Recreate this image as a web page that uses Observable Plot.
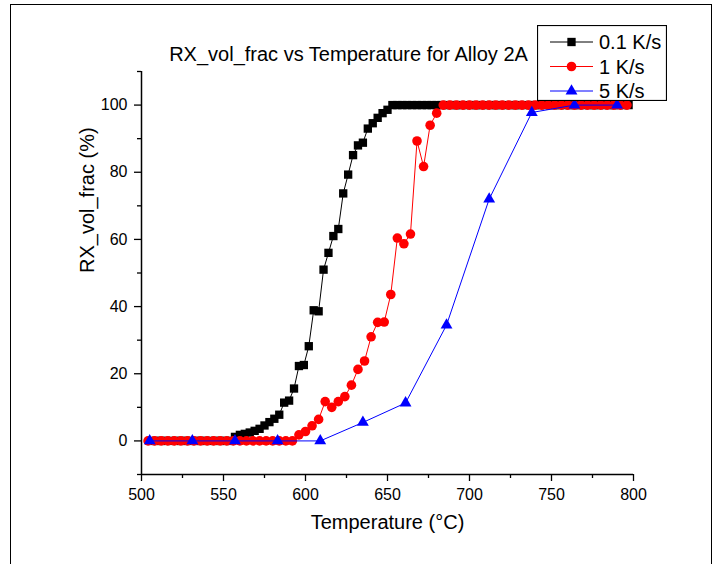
<!DOCTYPE html>
<html>
<head>
<meta charset="utf-8">
<script src="https://cdn.jsdelivr.net/npm/d3@7"></script>
<script src="https://cdn.jsdelivr.net/npm/@observablehq/plot@0.6"></script>
<style>
  html, body { margin: 0; padding: 0; background: #fff; }
  #wrap { position: relative; width: 723px; height: 564px; overflow: hidden; font-family: "Liberation Sans", Arial, sans-serif; }
  #outer { position: absolute; left: 10px; top: 4px; width: 702px; height: 600px; border: 1.5px solid #000; box-sizing: border-box; }
  #chart { position: absolute; left: 0; top: 0; }
  #legend { position: absolute; left: 537px; top: 25px; }
</style>
</head>
<body>
<div id="wrap">
  <div id="outer"></div>
  <div id="chart"></div>
  <div id="legend"></div>
</div>
<script>
const titleText = "RX_vol_frac vs Temperature for Alloy 2A";
const xLabel = "Temperature (°C)";
const yLabel = "RX_vol_frac (%)";
const xDomain = [500, 800];
const yDomain = [-10, 110];
const xMajorTicks = [500, 550, 600, 650, 700, 750, 800];
const xMinorTicks = [525, 575, 625, 675, 725, 775];
const yMajorTicks = [0, 20, 40, 60, 80, 100];
const yMinorTicks = [-10, 10, 30, 50, 70, 90, 110];
const seriesNames = ["0.1 K/s", "1 K/s", "5 K/s"];
const seriesColors = ["#000000", "#ff0000", "#0000ff"];
const seriesSymbols = ["square", "circle", "triangle"];

// 0.1 K/s
const tempSlow = [506,509,512,515,518,521,524,527,530,533,536,539,542,545,548,551,554,
  557,560,563,566,569,572,575,578,581,584,587,590,593,596,599,602,605,608,611,614,617,620,623,626,629,632,635,638,641,644,647,650,
  653,656,659,662,665,668,671,674,677,680,683,686,689,692,695,698,701,704,707,710,713,716,719,722,725,728,731,734,737,740,743,746,749,752,755,758,761,764,767,770,773,776,779,782,785,788,791,794,797];
const fracSlow = [0,0,0,0,0,0,0,0,0,0,0,0,0,0,0,0,0,
  1.2,1.8,2.1,2.5,3.0,3.6,4.6,5.6,6.6,7.8,11.4,12.0,15.6,22.3,22.6,28.2,38.9,38.6,51.0,56.0,61.0,63.1,73.7,79.3,85.1,88.0,88.8,93.0,94.6,96.2,97.6,98.6,
  100,100,100,100,100,100,100,100,100,100,100,100,100,100,100,100,100,100,100,100,100,100,100,100,100,100,100,100,100,100,100,100,100,100,100,100,100,100,100,100,100,100,100,100,100,100,100,100,100];

// 1 K/s
const tempMid = [504,508,512,516,520,524,528,532,536,540,544,548,552,556,560,564,568,572,576,580,584,588,592,
  596,600,604,608,612,616,620,624,628,632,636,640,644,648,652,656,660,664,668,672,676,680,
  684,688,692,696,700,704,708,712,716,720,724,728,732,736,740,744,748,752,756,760,764,768,772,776,780,784,788,792,796];
const fracMid = [0,0,0,0,0,0,0,0,0,0,0,0,0,0,0,0,0,0,0,0,0,0,0,
  1.8,2.8,4.5,6.4,11.7,10.0,11.7,13.2,16.6,21.3,23.8,31.0,35.3,35.4,43.6,60.4,58.7,61.6,89.3,81.7,94.0,97.6,
  100,100,100,100,100,100,100,100,100,100,100,100,100,100,100,100,100,100,100,100,100,100,100,100,100,100,100,100,100];

// 5 K/s
const tempFast = [505,531,557,583,609,635,661,686,712,738,764,790];
const fracFast = [0,0,0,0,0,5.5,11.3,34.5,72.0,97.8,100,100];

const toRows = (t, v) => t.map((d, i) => ({x: d, y: v[i]}));
const slow = toRows(tempSlow, fracSlow);
const mid = toRows(tempMid, fracMid);
const fast = toRows(tempFast, fracFast);

const font = "Liberation Sans, Arial, sans-serif";
const chart = Plot.plot({
  width: 723,
  height: 564,
  marginLeft: 141,
  marginRight: 90,
  marginTop: 71,
  marginBottom: 90,
  x: {domain: xDomain},
  y: {domain: yDomain},
  style: {fontFamily: font, background: "transparent", color: "#000", overflow: "visible"},
  marks: [
    Plot.axisX(xMajorTicks, {tickSize: 7, tickPadding: 7, fontSize: 16, label: null, strokeWidth: 1.3}),
    Plot.axisX(xMinorTicks, {tickSize: 4, tickFormat: () => "", label: null, strokeWidth: 1.3}),
    Plot.axisY(yMajorTicks, {tickSize: 7, tickPadding: 7, fontSize: 16, label: null, strokeWidth: 1.3}),
    Plot.axisY(yMinorTicks, {tickSize: 4, tickFormat: () => "", label: null, strokeWidth: 1.3}),
    Plot.ruleX([xDomain[0]], {stroke: "#000", strokeWidth: 1.5}),
    Plot.ruleY([yDomain[0]], {stroke: "#000", strokeWidth: 1.5}),
    Plot.line(slow, {x: "x", y: "y", stroke: seriesColors[0], strokeWidth: 1}),
    Plot.dot(slow, {x: "x", y: "y", symbol: seriesSymbols[0], r: 4.7, fill: seriesColors[0], stroke: "none"}),
    Plot.line(mid, {x: "x", y: "y", stroke: seriesColors[1], strokeWidth: 1}),
    Plot.dot(mid, {x: "x", y: "y", symbol: seriesSymbols[1], r: 4.8, fill: seriesColors[1], stroke: "none"}),
    Plot.line(fast, {x: "x", y: "y", stroke: seriesColors[2], strokeWidth: 1}),
    Plot.dot(fast, {x: "x", y: "y", symbol: seriesSymbols[2], r: 4.4, fill: seriesColors[2], stroke: "none"}),
    Plot.text([titleText], {frameAnchor: "top", lineAnchor: "middle", text: d => d, dx: -39, dy: -17, fontSize: 20, fill: "#000"}),
    Plot.text([xLabel], {frameAnchor: "bottom", lineAnchor: "middle", text: d => d, dy: 48, fontSize: 20, fill: "#000"}),
    Plot.text([yLabel], {frameAnchor: "left", lineAnchor: "middle", text: d => d, dx: -54, rotate: -90, fontSize: 20, fill: "#000"})
  ]
});
document.getElementById("chart").appendChild(chart);

// Legend
const lw = 130, lh = 76;
const leg = d3.select("#legend").append("svg").attr("width", lw).attr("height", lh)
  .style("font-family", font);
leg.append("rect").attr("x", 0.5).attr("y", 0.5).attr("width", lw - 1).attr("height", lh - 1)
  .attr("fill", "#fff").attr("stroke", "#000").attr("stroke-width", 1.2);
const symMap = {square: d3.symbolSquare, circle: d3.symbolCircle, triangle: d3.symbolTriangle};
const symR = [4.7, 4.8, 4.4];
seriesNames.forEach((name, i) => {
  const cy = 17 + i * 24.5;
  const g = leg.append("g");
  g.append("line").attr("x1", 13).attr("x2", 56).attr("y1", cy).attr("y2", cy)
    .attr("stroke", seriesColors[i]).attr("stroke-width", 1);
  g.append("path").attr("transform", `translate(34.5,${cy})`)
    .attr("d", d3.symbol(symMap[seriesSymbols[i]], Math.PI * symR[i] * symR[i])())
    .attr("fill", seriesColors[i]);
  g.append("text").attr("x", 62).attr("y", cy).attr("dy", "0.35em")
    .attr("font-size", 20).attr("fill", "#000").text(name);
});
</script>
</body>
</html>
